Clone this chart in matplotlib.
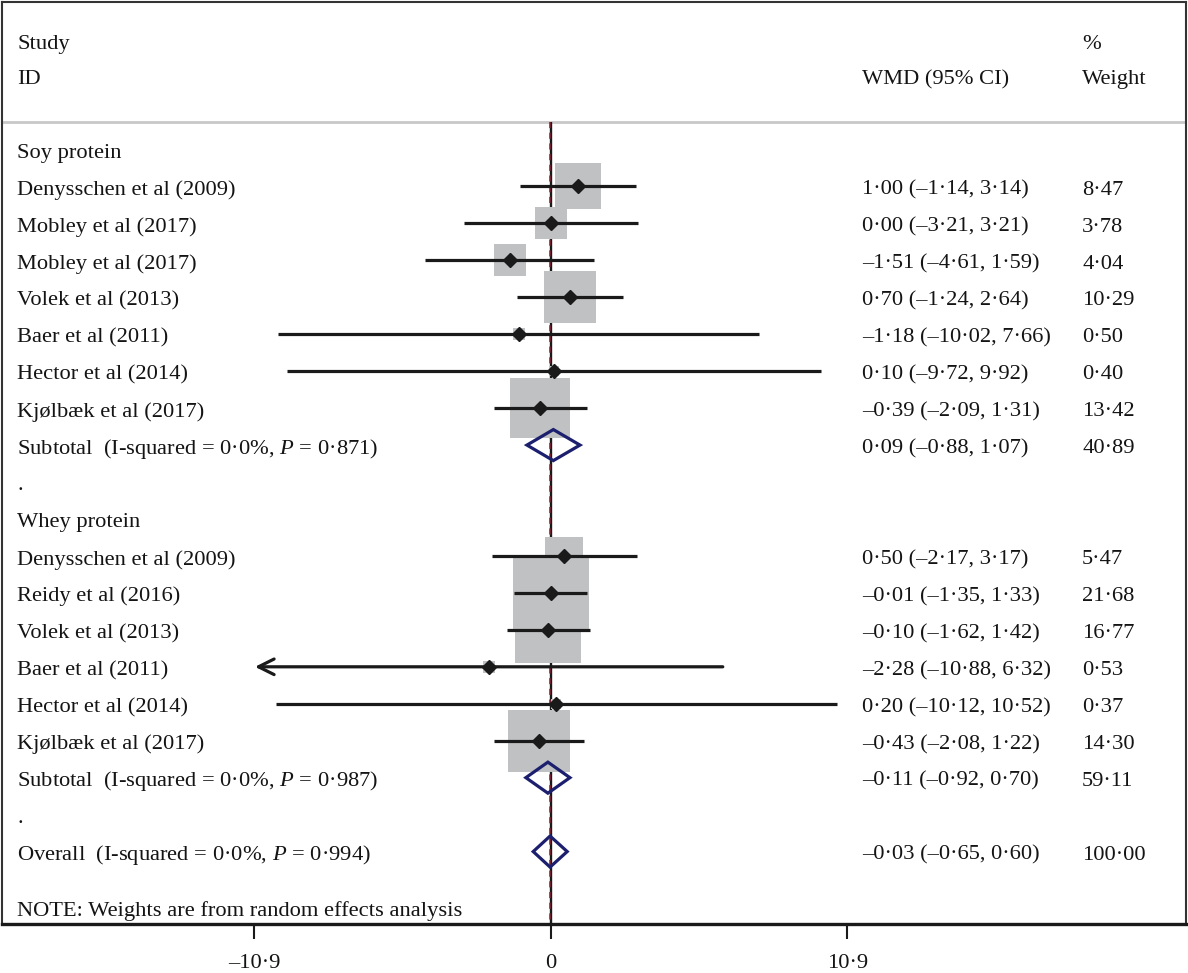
import numpy as np
import matplotlib
matplotlib.use("Agg")
import matplotlib.pyplot as plt

#-----------------data----------------
soy_names = ["Denysschen et al (2009)", "Mobley et al (2017)", "Mobley et al (2017)",
             "Volek et al (2013)", "Baer et al (2011)", "Hector et al (2014)",
             "Kjølbæk et al (2017)"]
soy_est = [1.00, 0.00, -1.51, 0.70, -1.18, 0.10, -0.39]
soy_lo = [-1.14, -3.21, -4.61, -1.24, -10.02, -9.72, -2.09]
soy_hi = [3.14, 3.21, 1.59, 2.64, 7.66, 9.92, 1.31]
soy_w = [8.47, 3.78, 4.04, 10.29, 0.50, 0.40, 13.42]
soy_sub = (0.09, -0.88, 1.07, 40.89, "0·871")

whey_names = ["Denysschen et al (2009)", "Reidy et al (2016)", "Volek et al (2013)",
              "Baer et al (2011)", "Hector et al (2014)", "Kjølbæk et al (2017)"]
whey_est = [0.50, -0.01, -0.10, -2.28, 0.20, -0.43]
whey_lo = [-2.17, -1.35, -1.62, -10.88, -10.12, -2.08]
whey_hi = [3.17, 1.33, 1.42, 6.32, 10.52, 1.22]
whey_w = [5.47, 21.68, 16.77, 0.53, 0.37, 14.30]
whey_sub = (-0.11, -0.92, 0.70, 59.11, "0·987")

overall = (-0.03, -0.65, 0.60, 100.00, "0·994")

ticks = [-10.9, 0, 10.9]
tick_labels = ["–10·9", "0", "10·9"]
#--------------------------------------

plt.rcParams['font.family'] = ['Liberation Serif', 'DejaVu Serif']
plt.rcParams['mathtext.fontset'] = 'custom'
plt.rcParams['mathtext.rm'] = 'Liberation Serif'
plt.rcParams['mathtext.it'] = 'Liberation Serif:italic'

FS = 16.2
TXT = '#141414'
NAVY = '#1c1f6e'
GREY = '#c0c1c3'
clip = 10.8  # CI beyond this gets an arrow
dy = 0.1     # text sits a touch below the marks
y_top, y_bot = -3.99, 20.96
y_sep = -0.745


def fmt(v):
    s = "%.2f" % abs(v)
    s = s.replace(".", "·")
    return ("–" + s) if v < 0 else s


def ci_text(e, l, h):
    return "%s (%s, %s)" % (fmt(e), fmt(l), fmt(h))


fig = plt.figure(figsize=(11.88, 9.73), dpi=100)
ax = fig.add_axes([2 / 1188, 49 / 973, 1184 / 1188, 922 / 973])
ax.set_xlim(-20.18, 23.35)
ax.set_ylim(y_bot, y_top)

tx = ax.get_yaxis_transform()
x_lab, x_ci, x_w = 0.0127, 0.7264, 0.9122


def put(x, y, s):
    ax.text(x, y, s, transform=tx, fontsize=FS, va='center', color=TXT)


# header
put(x_lab, -2.83, "Study")
put(x_lab, -1.88, "ID")
put(x_ci, -1.88, "WMD (95% CI)")
put(x_w, -2.83, "%")
put(x_w, -1.88, "Weight")
ax.axhline(y_sep, color='#c8c8c8', lw=2, zorder=1)

# null line and overall effect line
ax.vlines(overall[0], y_sep, y_bot, color='#8b2332', lw=1.1, linestyles=(0, (4, 3)), zorder=1.2)
ax.vlines(0, y_sep, y_bot, color='#1a1a1a', lw=1.7, zorder=1.1)


def draw_group(row, title, names, est, lo, hi, w, sub):
    put(x_lab, row + dy, title)
    row += 1
    for n, e, l, h, wt in zip(names, est, lo, hi, w):
        ax.scatter([e], [row], s=135 * wt, marker='s', color=GREY, linewidths=0, zorder=2)
        if l < -clip:
            ax.annotate('', xy=(l, row), xytext=(h, row),
                        arrowprops=dict(arrowstyle='->', lw=2.3, color='#1a1a1a',
                                        mutation_scale=28, shrinkA=0, shrinkB=0), zorder=3)
        else:
            ax.plot([l, h], [row, row], color='#1a1a1a', lw=2.3, zorder=3, solid_capstyle='butt')
        ax.plot([e], [row], marker='D', ms=6.8, color='#1a1a1a', zorder=4)
        put(x_lab, row + dy, n)
        put(x_ci, row + dy, ci_text(e, l, h))
        put(x_w, row + dy, ("%.2f" % wt).replace(".", "·"))
        row += 1
    draw_summary(row, "Subtotal  (I-squared = 0·0%, $P$ = " + sub[4] + ")", sub)
    row += 1
    put(x_lab, row + dy, ".")
    return row + 1


def draw_summary(row, label, sub):
    e, l, h, wt, p = sub
    hh = 0.42
    ax.fill([l, e, h, e, l], [row, row - hh, row, row + hh, row], fill=False,
            edgecolor=NAVY, lw=2.3, zorder=3, joinstyle='miter')
    put(x_lab, row + dy, label)
    put(x_ci, row + dy, ci_text(e, l, h))
    put(x_w, row + dy, ("%.2f" % wt).replace(".", "·"))


r = draw_group(0, "Soy protein", soy_names, soy_est, soy_lo, soy_hi, soy_w, soy_sub)
r = draw_group(r, "Whey protein", whey_names, whey_est, whey_lo, whey_hi, whey_w, whey_sub)
draw_summary(r, "Overall  (I-squared = 0·0%, $P$ = " + overall[4] + ")", overall)
put(x_lab, r + 1.61, "NOTE: Weights are from random effects analysis")

#-----------axes / frame-------------
for side in ['top', 'left', 'right']:
    ax.spines[side].set_linewidth(1.5)
    ax.spines[side].set_color('#333333')
ax.spines['bottom'].set_linewidth(2.4)
ax.spines['bottom'].set_color('#1a1a1a')
ax.set_xticks(ticks)
ax.set_xticklabels(tick_labels, fontsize=FS, color=TXT)
ax.tick_params(axis='x', direction='out', length=10.5, width=1.5, pad=11, color='#1a1a1a')
ax.set_yticks([])

fig.savefig("out.png", dpi=100)
